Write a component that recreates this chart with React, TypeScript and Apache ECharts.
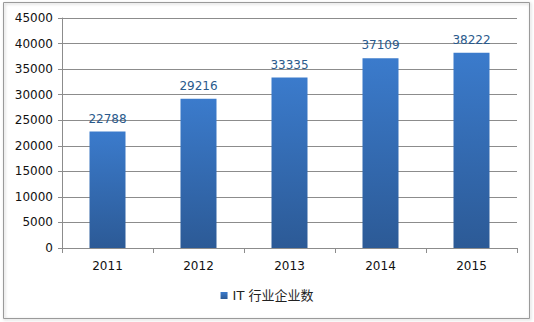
import React, { useEffect, useRef } from "react";
import * as echarts from "echarts";

const categories = ["2011", "2012", "2013", "2014", "2015"];
const values = [22788, 29216, 33335, 37109, 38222];
const seriesName = "IT 行业企业数";

export default function App() {
  const ref = useRef<HTMLDivElement>(null);
  useEffect(() => {
    const chart = echarts.init(ref.current!, null, { renderer: "svg" });
    chart.setOption({
      animation: false,
      textStyle: { fontFamily: "DejaVu Sans" },
      graphic: [
        {
          type: "rect",
          shape: { x: 3.5, y: 2.5, width: 526, height: 316 },
          style: { fill: "none", stroke: "#9a9a9a", lineWidth: 1, shadowColor: "rgba(0,0,0,0.25)", shadowBlur: 3, shadowOffsetX: 1, shadowOffsetY: 1 },
          silent: true,
        },
      ],
      grid: { left: 62, right: 17, top: 18, bottom: 74 },
      legend: {
        bottom: 15,
        left: "center",
        itemWidth: 7,
        itemHeight: 7,
        itemGap: 6,
        icon: "rect",
        textStyle: { fontSize: 13, color: "#222", fontFamily: "DejaVu Sans, Noto Sans CJK SC" },
        data: [seriesName],
      },
      xAxis: {
        type: "category",
        data: categories,
        axisLine: { lineStyle: { color: "#8c8c8c" } },
        axisTick: { show: true, length: 5, lineStyle: { color: "#8c8c8c" } },
        axisLabel: { fontSize: 12, color: "#111", margin: 12 },
      },
      yAxis: {
        type: "value",
        min: 0,
        max: 45000,
        interval: 5000,
        axisLine: { show: true, lineStyle: { color: "#8c8c8c" } },
        axisTick: { show: true, length: 4, lineStyle: { color: "#8c8c8c" } },
        splitLine: { lineStyle: { color: "#8c8c8c" } },
        axisLabel: { fontSize: 12, color: "#111", margin: 9, formatter: (v: number) => String(v) },
      },
      series: [
        {
          name: seriesName,
          type: "bar",
          data: values,
          barWidth: 36,
          itemStyle: {
            color: new echarts.graphic.LinearGradient(0, 0, 0, 1, [
              { offset: 0, color: "#3b7bcc" },
              { offset: 1, color: "#2c5a96" },
            ]),
          },
          label: {
            show: true,
            position: "top",
            distance: 7,
            fontSize: 12,
            color: "#2a5a8c",
          },
        },
      ],
    });
    return () => chart.dispose();
  }, []);
  return (
    <div
      ref={ref}
      style={{ position: "fixed", left: 0, top: 0, width: 534, height: 322, background: "#fff" }}
    />
  );
}
